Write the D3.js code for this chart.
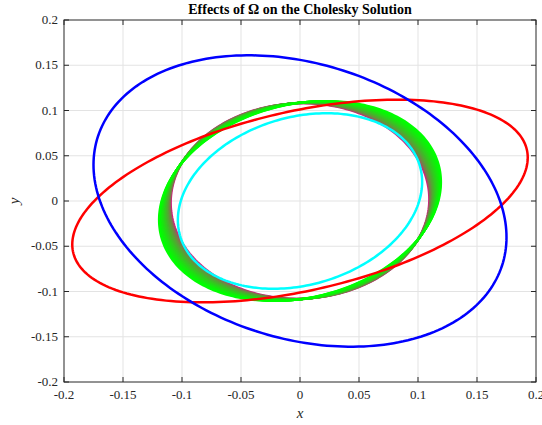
<!DOCTYPE html>
<html>
<head>
<meta charset="utf-8">
<script src="https://cdn.jsdelivr.net/npm/d3@7"></script>
<style>
  body { margin: 0; background: #fff; }
  text { font-family: "Liberation Serif", "DejaVu Serif", serif; }
</style>
</head>
<body>
<div id="chart"></div>
<script>
// ellipses: x at the widest point, y at that point, top y
var mainNames = ["cyan", "red", "blue"];
var mainXMax = [0.1035, 0.193, 0.175];
var mainYAtXMax = [0.021, 0.048, -0.040];
var mainYMax = [0.097, 0.112, 0.161];
var mainColors = ["#00ffff", "#ff0000", "#0000ff"];

// family of Omega solutions, first (magenta) to last (green)
var bandXMax = [0.1095, 0.1102, 0.1108, 0.1115, 0.1122, 0.1128, 0.1135, 0.1142,
                0.1148, 0.1155, 0.1162, 0.1168, 0.1175, 0.1182, 0.1188, 0.1195];
var bandYAtXMax = [0.002, 0.0033, 0.0046, 0.0058, 0.007, 0.0083, 0.0095, 0.0108,
                   0.012, 0.0133, 0.0145, 0.0158, 0.017, 0.0183, 0.0195, 0.0208];
var bandYMax = [0.108, 0.1082, 0.1083, 0.1085, 0.1087, 0.1088, 0.109, 0.1092,
                0.1093, 0.1095, 0.1097, 0.1098, 0.11, 0.1102, 0.1103, 0.1105];

var xTicks = [-0.2, -0.15, -0.1, -0.05, 0, 0.05, 0.1, 0.15, 0.2];
var yTicks = [-0.2, -0.15, -0.1, -0.05, 0, 0.05, 0.1, 0.15, 0.2];

var W = 542, H = 425;
var mL = 64, mR = 536, mT = 20, mB = 382;

var svg = d3.select("#chart").append("svg")
    .attr("width", W)
    .attr("height", H);

var x = d3.scaleLinear().domain([-0.2, 0.2]).range([mL, mR]);
var y = d3.scaleLinear().domain([-0.2, 0.2]).range([mB, mT]);

// grid
svg.append("g").selectAll("line")
    .data(xTicks.slice(1, -1))
    .enter().append("line")
    .attr("x1", function(d) { return x(d); })
    .attr("x2", function(d) { return x(d); })
    .attr("y1", mT).attr("y2", mB)
    .attr("stroke", "#e3e3e3").attr("stroke-width", 1);
svg.append("g").selectAll("line")
    .data(yTicks.slice(1, -1))
    .enter().append("line")
    .attr("y1", function(d) { return y(d); })
    .attr("y2", function(d) { return y(d); })
    .attr("x1", mL).attr("x2", mR)
    .attr("stroke", "#e3e3e3").attr("stroke-width", 1);

// points of an ellipse x = a cos t, y = b cos t + c sin t
function ellipse(a, b, ym) {
    var c = Math.sqrt(ym * ym - b * b);
    return d3.range(0, 240).map(function(i) {
        var t = i / 240 * 2 * Math.PI;
        return [a * Math.cos(t), b * Math.cos(t) + c * Math.sin(t)];
    });
}

var line = d3.line()
    .x(function(d) { return x(d[0]); })
    .y(function(d) { return y(d[1]); })
    .curve(d3.curveLinearClosed);

var bandColor = d3.interpolateRgb("#d01f80", "#00ff00");
var plot = svg.append("g");

plot.selectAll("path.band")
    .data(bandXMax)
    .enter().append("path")
    .attr("class", "band")
    .attr("d", function(d, i) { return line(ellipse(d, bandYAtXMax[i], bandYMax[i])); })
    .attr("fill", "none")
    .attr("stroke", function(d, i) { return bandColor(Math.pow(i / (bandXMax.length - 1), 0.45)); })
    .attr("stroke-width", 2.2);

plot.selectAll("path.main")
    .data(mainNames)
    .enter().append("path")
    .attr("class", "main")
    .attr("d", function(d, i) { return line(ellipse(mainXMax[i], mainYAtXMax[i], mainYMax[i])); })
    .attr("fill", "none")
    .attr("stroke", function(d, i) { return mainColors[i]; })
    .attr("stroke-width", 2.5);

// box and ticks
var axisColor = "#262626";
svg.append("rect")
    .attr("x", mL).attr("y", mT)
    .attr("width", mR - mL).attr("height", mB - mT)
    .attr("fill", "none").attr("stroke", axisColor).attr("stroke-width", 1);

var tl = 5;
var ticks = svg.append("g").attr("stroke", axisColor).attr("stroke-width", 1);
xTicks.forEach(function(d) {
    ticks.append("line").attr("x1", x(d)).attr("x2", x(d)).attr("y1", mB).attr("y2", mB - tl);
    ticks.append("line").attr("x1", x(d)).attr("x2", x(d)).attr("y1", mT).attr("y2", mT + tl);
});
yTicks.forEach(function(d) {
    ticks.append("line").attr("y1", y(d)).attr("y2", y(d)).attr("x1", mL).attr("x2", mL + tl);
    ticks.append("line").attr("y1", y(d)).attr("y2", y(d)).attr("x1", mR).attr("x2", mR - tl);
});

var fmt = function(d) { return String(d); };

svg.append("g").selectAll("text")
    .data(xTicks)
    .enter().append("text")
    .attr("x", function(d) { return x(d); })
    .attr("y", mB + 17)
    .attr("text-anchor", "middle")
    .attr("font-size", "13px")
    .attr("fill", axisColor)
    .text(fmt);

svg.append("g").selectAll("text")
    .data(yTicks)
    .enter().append("text")
    .attr("x", mL - 6)
    .attr("y", function(d) { return y(d) + 4; })
    .attr("text-anchor", "end")
    .attr("font-size", "13px")
    .attr("fill", axisColor)
    .text(fmt);

// labels
svg.append("text")
    .attr("x", (mL + mR) / 2).attr("y", 418)
    .attr("text-anchor", "middle")
    .attr("font-size", "15px").attr("font-style", "italic")
    .attr("fill", axisColor)
    .text("x");

svg.append("text")
    .attr("transform", "translate(19," + ((mT + mB) / 2) + ") rotate(-90)")
    .attr("text-anchor", "middle")
    .attr("font-size", "15px").attr("font-style", "italic")
    .attr("fill", axisColor)
    .text("y");

svg.append("text")
    .attr("x", (mL + mR) / 2).attr("y", 14)
    .attr("text-anchor", "middle")
    .attr("font-size", "14px").attr("font-weight", "bold")
    .attr("fill", "#000")
    .text("Effects of Ω on the Cholesky Solution");
</script>
</body>
</html>
